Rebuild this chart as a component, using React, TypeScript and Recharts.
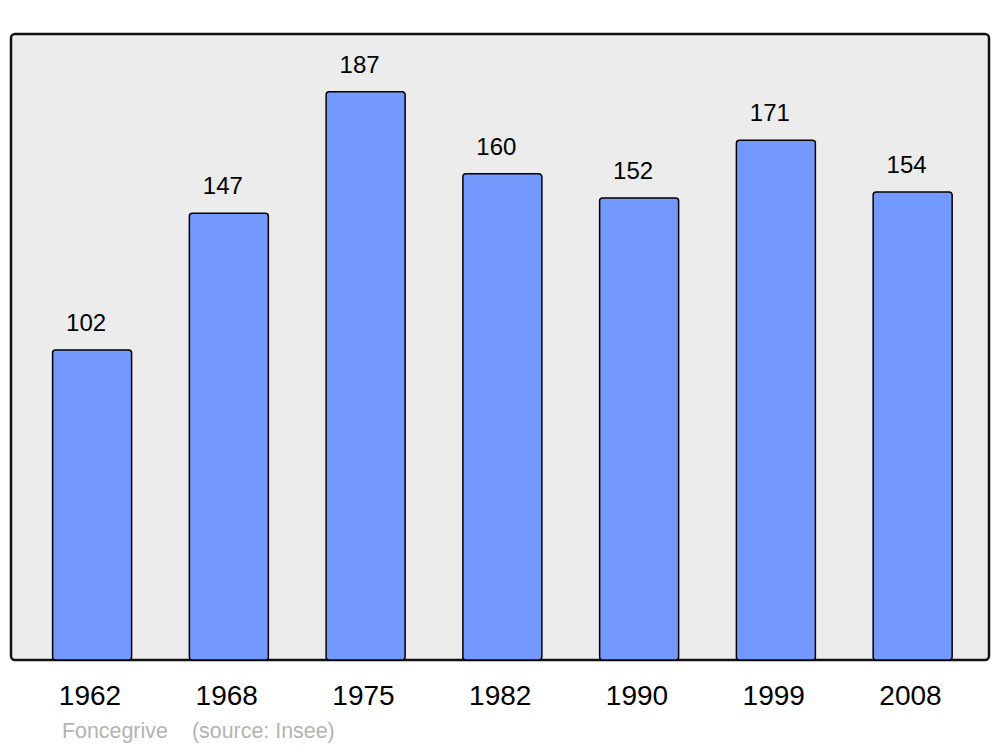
import React from 'react';
import { BarChart, Bar, XAxis, YAxis, CartesianGrid, LabelList, usePlotArea } from 'recharts';

const years = ['1962', '1968', '1975', '1982', '1990', '1999', '2008'];
const population = [102, 147, 187, 160, 152, 171, 154];
const townName = 'Foncegrive';
const sourceNote = '(source: Insee)';

const data = years.map((year, i) => ({ year, population: population[i] }));

const FONT = '"Liberation Sans", Arial, sans-serif';

// frame drawn around the plotting area
const Frame: React.FC = () => {
  const area = usePlotArea();
  if (!area) return null;
  return (
    <rect
      x={area.x}
      y={area.y}
      width={area.width}
      height={area.height}
      rx={4}
      ry={4}
      fill="none"
      stroke="#111"
      strokeWidth={2.5}
    />
  );
};

const YearTick = (props: any) => {
  const { x, y, payload } = props;
  return (
    <text x={x - 2} y={y} dy={45} textAnchor="middle" fontSize={28} fontFamily={FONT} fill="#000">
      {payload.value}
    </text>
  );
};

const ValueLabel = (props: any) => {
  const { x, y, width, value } = props;
  return (
    <text x={x + width / 2 - 6} y={y - 19} textAnchor="middle" fontSize={24} fontFamily={FONT} fill="#000">
      {value}
    </text>
  );
};

const App: React.FC = () => {
  return (
    <div style={{ position: 'absolute', left: 0, top: 0, width: 1000, height: 747, background: '#fff' }}>
      <BarChart
        width={1000}
        height={747}
        data={data}
        margin={{ top: 34, right: 11, bottom: 57, left: 11 }}
        barSize={79}
      >
        <CartesianGrid horizontal={false} vertical={false} fill="#ececec" stroke="none" />
        <XAxis
          dataKey="year"
          height={30}
          axisLine={false}
          tickLine={false}
          tickSize={0}
          tickMargin={0}
          padding={{ left: 12.6, right: 8.1 }}
          tick={<YearTick />}
          interval={0}
        />
        <YAxis hide domain={[0, 206]} />
        <Bar
          dataKey="population"
          fill="#7399ff"
          stroke="#000"
          strokeWidth={1.5}
          radius={3}
          isAnimationActive={false}
        >
          <LabelList dataKey="population" content={<ValueLabel />} />
        </Bar>
        <Frame />
        <text x={62} y={738} fontSize={21.4} fontFamily={FONT} fill="#b3b3b3">
          {townName}
        </text>
        <text x={192} y={738} fontSize={21.4} fontFamily={FONT} fill="#b3b3b3">
          {sourceNote}
        </text>
      </BarChart>
    </div>
  );
};

export default App;
